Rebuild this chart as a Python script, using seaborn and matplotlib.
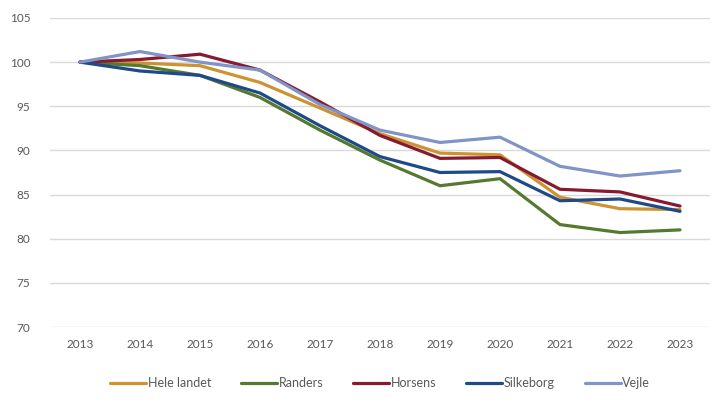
import pandas as pd
import seaborn as sns
import matplotlib.pyplot as plt

years = list(range(2013, 2024))
hele_landet = [100.0, 99.9, 99.6, 97.7, 94.8, 91.9, 89.7, 89.5, 84.7, 83.4, 83.3]
randers = [100.0, 99.6, 98.5, 96.0, 92.3, 88.9, 86.0, 86.8, 81.6, 80.7, 81.0]
horsens = [100.0, 100.3, 100.9, 99.1, 95.5, 91.7, 89.1, 89.2, 85.6, 85.3, 83.7]
silkeborg = [100.0, 99.0, 98.5, 96.5, 92.8, 89.3, 87.5, 87.6, 84.3, 84.5, 83.1]
vejle = [100.0, 101.2, 100.0, 99.1, 95.2, 92.3, 90.9, 91.5, 88.2, 87.1, 87.7]

names = ['Hele landet', 'Randers', 'Horsens', 'Silkeborg', 'Vejle']
colors = ['#CC9330', '#55792F', '#861A30', '#1F4A87', '#8094C8']

df = pd.DataFrame({'year': years, 'Hele landet': hele_landet, 'Randers': randers,
                   'Horsens': horsens, 'Silkeborg': silkeborg, 'Vejle': vejle})
df = df.melt(id_vars='year', var_name='name', value_name='value')
df['pos'] = df['year'] - years[0]

sns.set_style('white')
plt.rcParams['font.family'] = ['Lato', 'DejaVu Sans']

f, ax = plt.subplots(figsize=(7.28, 4.09), dpi=100)
f.subplots_adjust(left=50/728, right=710/728, top=1 - 18/409, bottom=1 - 327/409)

g = sns.lineplot(data=df, x='pos', y='value', hue='name', hue_order=names,
                 palette=colors, linewidth=2.3, ax=ax)

g.set_xlim(-0.5, 10.5)
g.set_ylim(70, 105)
g.set_yticks(range(70, 106, 5))
g.set_xticks(range(len(years)))
g.set_xticklabels([str(y) for y in years])
g.set_xlabel(None)
g.set_ylabel(None)
g.grid(True, axis='y', color='#D9D9D9', linewidth=1)
g.set_axisbelow(True)
for s in g.spines.values():
    s.set_visible(False)
g.tick_params(axis='both', colors='#595959', labelsize=8.5, length=0)
g.tick_params(axis='x', pad=9)
g.tick_params(axis='y', pad=14)

g.legend(loc='upper center', bbox_to_anchor=(0.5, -0.125), ncol=5, frameon=False,
         fontsize=9, handlelength=2.9, handletextpad=0.1, columnspacing=2.4,
         labelcolor='#595959')

plt.savefig('out.png', dpi=100)
